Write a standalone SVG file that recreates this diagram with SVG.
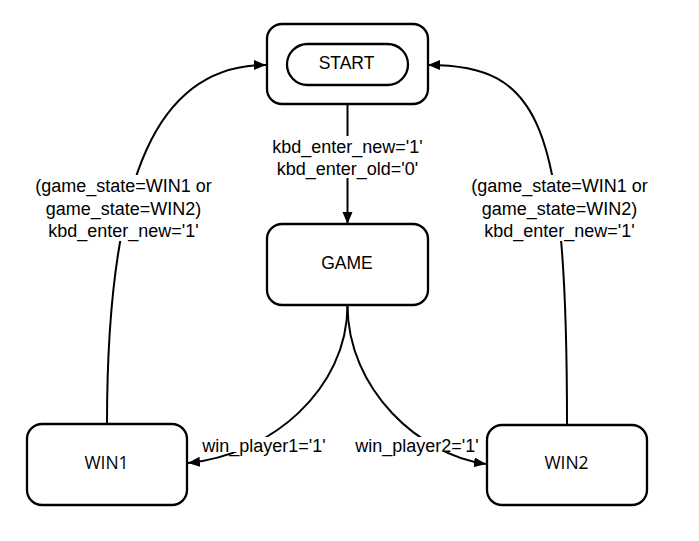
<svg xmlns="http://www.w3.org/2000/svg" width="699" height="541" viewBox="0 0 699 541">
  <style>
    .box { fill: #ffffff; stroke: #000000; stroke-width: 2.3; }
    .edge { fill: none; stroke: #000000; stroke-width: 2; marker-end: url(#arrow); }
    .bg { fill: #ffffff; stroke: none; }
    .lbl { font-family: "Liberation Sans", Arial, sans-serif; font-size: 18px; fill: #000000; text-anchor: middle; }
    .name { font-family: "Liberation Sans", Arial, sans-serif; font-size: 17.5px; fill: #000000; text-anchor: middle; }
    .name2 { font-family: "Open Sans", "Liberation Sans", sans-serif; font-size: 17.5px; fill: #000000; text-anchor: middle; }
  </style>
  <defs>
    <marker id="arrow" markerUnits="userSpaceOnUse" markerWidth="13" markerHeight="11" refX="12" refY="5" orient="auto">
      <path d="M0,0 L12,5 L0,10 Z" fill="#000000"/>
    </marker>
  </defs>
  <rect x="0" y="0" width="699" height="541" fill="#ffffff"/>

  <g id="connectors">
    <path class="edge" d="M347.5,104 L347.5,224"/>
    <path class="edge" d="M347.5,305 C347.5,390 270,455 188,463"/>
    <path class="edge" d="M347.5,305 C347.5,390 420,455 486,464"/>
    <path class="edge" d="M107,424 C107,170 160,65 266,65"/>
    <path class="edge" d="M567,425 C567,120 540,65 428,65"/>

    <rect class="bg" x="270" y="136" width="155" height="42"/>
    <text class="lbl" x="347.5" y="152.5">kbd_enter_new='1'</text>
    <text class="lbl" x="347.5" y="175">kbd_enter_old='0'</text>

    <rect class="bg" x="34" y="175" width="180" height="66"/>
    <text class="lbl" x="123.5" y="192">(game_state=WIN1 or</text>
    <text class="lbl" x="123.5" y="214.5">game_state=WIN2)</text>
    <text class="lbl" x="123.5" y="237">kbd_enter_new='1'</text>

    <rect class="bg" x="469" y="175" width="181" height="66"/>
    <text class="lbl" x="559.5" y="192">(game_state=WIN1 or</text>
    <text class="lbl" x="559.5" y="214.5">game_state=WIN2)</text>
    <text class="lbl" x="559.5" y="237">kbd_enter_new='1'</text>

    <rect class="bg" x="201" y="437" width="126" height="15"/>
    <text class="lbl" x="264" y="452">win_player1='1'</text>

    <rect class="bg" x="355" y="437" width="125" height="15"/>
    <text class="lbl" x="417" y="452">win_player2='1'</text>
  </g>

  <g id="node-start">
    <rect class="box" x="267" y="24" width="161" height="80" rx="15" ry="15"/>
    <rect class="box" x="287" y="44" width="121" height="41" rx="20.5" ry="20.5"/>
    <text class="name" x="346.5" y="68.5">START</text>
  </g>

  <g id="node-game">
    <rect class="box" x="267" y="224" width="161" height="81" rx="15" ry="15"/>
    <text class="name" x="347" y="268.5">GAME</text>
  </g>

  <g id="node-win1">
    <rect class="box" x="27" y="424" width="160" height="81" rx="15" ry="15"/>
    <text class="name2" x="106.5" y="468.5">WIN1</text>
  </g>

  <g id="node-win2">
    <rect class="box" x="487" y="425" width="160" height="80" rx="15" ry="15"/>
    <text class="name2" x="566.5" y="468.5">WIN2</text>
  </g>
</svg>
